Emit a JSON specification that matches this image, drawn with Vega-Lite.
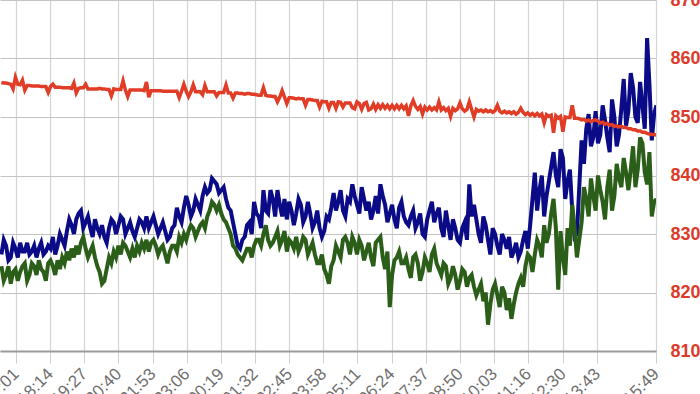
{
  "$schema": "https://vega.github.io/schema/vega-lite/v6.json",
  "width": 656,
  "height": 351,
  "autosize": "none",
  "padding": {"left": 0, "top": 0, "right": 44, "bottom": 43},
  "background": "white",
  "config": {"view": {"stroke": null}, "font": "Liberation Sans"},
  "data": {"values": [
    {"t":"2024-01-01T16:30","b":826.5,"g":824.5,"r":855.9},
    {"t":"2024-01-01T16:35","b":829.0,"g":822.0,"r":855.8},
    {"t":"2024-01-01T16:40","b":828.0,"g":823.0,"r":855.8},
    {"t":"2024-01-01T16:45","b":825.5,"g":824.5,"r":855.7},
    {"t":"2024-01-01T16:50","b":826.0,"g":821.5,"r":855.6},
    {"t":"2024-01-01T16:55","b":828.5,"g":823.5,"r":854.8},
    {"t":"2024-01-01T17:00","b":827.5,"g":824.0,"r":856.8},
    {"t":"2024-01-01T17:05","b":826.0,"g":822.0,"r":855.6},
    {"t":"2024-01-01T17:10","b":828.5,"g":823.5,"r":855.5},
    {"t":"2024-01-01T17:15","b":827.0,"g":824.5,"r":856.3},
    {"t":"2024-01-01T17:20","b":827.0,"g":825.0,"r":854.6},
    {"t":"2024-01-01T17:25","b":828.5,"g":822.0,"r":855.4},
    {"t":"2024-01-01T17:30","b":826.5,"g":823.0,"r":855.4},
    {"t":"2024-01-01T17:35","b":827.0,"g":825.0,"r":855.3},
    {"t":"2024-01-01T17:40","b":828.0,"g":824.5,"r":855.3},
    {"t":"2024-01-01T17:45","b":826.0,"g":823.0,"r":855.3},
    {"t":"2024-01-01T17:50","b":827.5,"g":825.5,"r":855.3},
    {"t":"2024-01-01T17:55","b":828.5,"g":824.0,"r":855.2},
    {"t":"2024-01-01T18:00","b":826.5,"g":823.5,"r":855.2},
    {"t":"2024-01-01T18:05","b":827.0,"g":822.0,"r":855.2},
    {"t":"2024-01-01T18:10","b":828.0,"g":825.0,"r":854.2},
    {"t":"2024-01-01T18:15","b":827.5,"g":825.5,"r":855.2},
    {"t":"2024-01-01T18:20","b":829.5,"g":824.5,"r":855.6},
    {"t":"2024-01-01T18:25","b":826.5,"g":823.0,"r":855.1},
    {"t":"2024-01-01T18:30","b":828.0,"g":825.5,"r":855.1},
    {"t":"2024-01-01T18:35","b":830.0,"g":824.0,"r":855.1},
    {"t":"2024-01-01T18:40","b":829.0,"g":826.0,"r":855.0},
    {"t":"2024-01-01T18:45","b":828.0,"g":825.0,"r":855.0},
    {"t":"2024-01-01T18:50","b":830.5,"g":827.0,"r":855.0},
    {"t":"2024-01-01T18:55","b":832.5,"g":825.5,"r":855.0},
    {"t":"2024-01-01T19:00","b":831.5,"g":827.5,"r":854.9},
    {"t":"2024-01-01T19:05","b":830.0,"g":826.0,"r":855.8},
    {"t":"2024-01-01T19:10","b":832.5,"g":828.0,"r":854.1},
    {"t":"2024-01-01T19:15","b":833.5,"g":826.5,"r":854.9},
    {"t":"2024-01-01T19:20","b":834.0,"g":828.5,"r":855.0},
    {"t":"2024-01-01T19:25","b":831.0,"g":829.5,"r":855.0},
    {"t":"2024-01-01T19:30","b":832.0,"g":827.5,"r":855.6},
    {"t":"2024-01-01T19:35","b":833.0,"g":826.0,"r":854.8},
    {"t":"2024-01-01T19:40","b":831.0,"g":827.0,"r":854.8},
    {"t":"2024-01-01T19:45","b":829.5,"g":828.0,"r":854.8},
    {"t":"2024-01-01T19:50","b":832.5,"g":826.0,"r":854.8},
    {"t":"2024-01-01T19:55","b":831.0,"g":824.5,"r":854.8},
    {"t":"2024-01-01T20:00","b":830.0,"g":823.5,"r":854.9},
    {"t":"2024-01-01T20:05","b":831.5,"g":821.5,"r":854.8},
    {"t":"2024-01-01T20:10","b":829.5,"g":822.0,"r":854.8},
    {"t":"2024-01-01T20:15","b":828.5,"g":824.0,"r":854.7},
    {"t":"2024-01-01T20:20","b":831.0,"g":826.0,"r":854.7},
    {"t":"2024-01-01T20:25","b":832.5,"g":825.0,"r":853.6},
    {"t":"2024-01-01T20:30","b":832.0,"g":827.0,"r":854.8},
    {"t":"2024-01-01T20:35","b":830.0,"g":826.0,"r":854.7},
    {"t":"2024-01-01T20:40","b":831.5,"g":828.0,"r":854.7},
    {"t":"2024-01-01T20:45","b":833.0,"g":826.5,"r":854.7},
    {"t":"2024-01-01T20:50","b":832.5,"g":828.5,"r":856.2},
    {"t":"2024-01-01T20:55","b":830.0,"g":828.0,"r":854.6},
    {"t":"2024-01-01T21:00","b":831.0,"g":827.0,"r":853.5},
    {"t":"2024-01-01T21:05","b":832.0,"g":826.0,"r":854.6},
    {"t":"2024-01-01T21:10","b":830.5,"g":827.5,"r":854.6},
    {"t":"2024-01-01T21:15","b":829.5,"g":826.0,"r":854.6},
    {"t":"2024-01-01T21:20","b":831.0,"g":828.0,"r":854.6},
    {"t":"2024-01-01T21:25","b":832.5,"g":827.0,"r":854.6},
    {"t":"2024-01-01T21:30","b":832.0,"g":828.5,"r":854.6},
    {"t":"2024-01-01T21:35","b":831.0,"g":827.5,"r":854.5},
    {"t":"2024-01-01T21:40","b":833.0,"g":829.0,"r":856.0},
    {"t":"2024-01-01T21:45","b":831.0,"g":827.0,"r":853.4},
    {"t":"2024-01-01T21:50","b":832.0,"g":828.5,"r":854.5},
    {"t":"2024-01-01T21:55","b":833.0,"g":829.0,"r":854.5},
    {"t":"2024-01-01T22:00","b":831.5,"g":828.0,"r":854.5},
    {"t":"2024-01-01T22:05","b":830.0,"g":826.5,"r":854.5},
    {"t":"2024-01-01T22:10","b":831.0,"g":827.5,"r":854.5},
    {"t":"2024-01-01T22:15","b":832.0,"g":828.0,"r":854.4},
    {"t":"2024-01-01T22:20","b":830.5,"g":826.5,"r":854.4},
    {"t":"2024-01-01T22:25","b":829.0,"g":825.0,"r":854.4},
    {"t":"2024-01-01T22:30","b":829.5,"g":827.0,"r":854.4},
    {"t":"2024-01-01T22:35","b":831.0,"g":828.0,"r":854.4},
    {"t":"2024-01-01T22:40","b":831.5,"g":828.0,"r":854.4},
    {"t":"2024-01-01T22:45","b":834.5,"g":827.0,"r":854.4},
    {"t":"2024-01-01T22:50","b":833.0,"g":829.5,"r":853.3},
    {"t":"2024-01-01T22:55","b":832.0,"g":828.5,"r":854.4},
    {"t":"2024-01-01T23:00","b":834.5,"g":830.0,"r":855.6},
    {"t":"2024-01-01T23:05","b":836.5,"g":829.0,"r":854.4},
    {"t":"2024-01-01T23:10","b":835.0,"g":830.5,"r":853.5},
    {"t":"2024-01-01T23:15","b":833.0,"g":831.5,"r":854.3},
    {"t":"2024-01-01T23:20","b":834.0,"g":831.0,"r":855.5},
    {"t":"2024-01-01T23:25","b":836.0,"g":829.5,"r":854.3},
    {"t":"2024-01-01T23:30","b":835.0,"g":830.5,"r":854.3},
    {"t":"2024-01-01T23:35","b":834.0,"g":831.5,"r":854.3},
    {"t":"2024-01-01T23:40","b":836.5,"g":832.0,"r":853.8},
    {"t":"2024-01-01T23:45","b":838.0,"g":831.0,"r":855.4},
    {"t":"2024-01-01T23:50","b":837.0,"g":833.0,"r":854.3},
    {"t":"2024-01-01T23:55","b":837.5,"g":834.0,"r":854.3},
    {"t":"2024-01-02T00:00","b":839.5,"g":835.5,"r":854.3},
    {"t":"2024-01-02T00:05","b":839.0,"g":835.0,"r":854.3},
    {"t":"2024-01-02T00:10","b":838.5,"g":834.0,"r":853.6},
    {"t":"2024-01-02T00:15","b":837.0,"g":835.0,"r":854.2},
    {"t":"2024-01-02T00:20","b":837.5,"g":833.5,"r":854.2},
    {"t":"2024-01-02T00:25","b":838.0,"g":832.5,"r":854.2},
    {"t":"2024-01-02T00:30","b":836.0,"g":832.0,"r":855.5},
    {"t":"2024-01-02T00:35","b":834.5,"g":831.0,"r":854.1},
    {"t":"2024-01-02T00:40","b":834.0,"g":830.0,"r":854.1},
    {"t":"2024-01-02T00:45","b":832.0,"g":828.0,"r":853.2},
    {"t":"2024-01-02T00:50","b":830.0,"g":827.5,"r":854.1},
    {"t":"2024-01-02T00:55","b":828.0,"g":826.5,"r":854.1},
    {"t":"2024-01-02T01:00","b":827.5,"g":826.0,"r":854.0},
    {"t":"2024-01-02T01:05","b":829.0,"g":825.5,"r":854.0},
    {"t":"2024-01-02T01:10","b":829.5,"g":826.5,"r":853.9},
    {"t":"2024-01-02T01:15","b":831.5,"g":827.5,"r":854.0},
    {"t":"2024-01-02T01:20","b":832.0,"g":827.5,"r":854.0},
    {"t":"2024-01-02T01:25","b":830.0,"g":826.0,"r":853.9},
    {"t":"2024-01-02T01:30","b":835.5,"g":828.0,"r":853.9},
    {"t":"2024-01-02T01:35","b":833.5,"g":829.0,"r":853.8},
    {"t":"2024-01-02T01:40","b":833.0,"g":829.0,"r":853.7},
    {"t":"2024-01-02T01:45","b":831.0,"g":828.0,"r":853.7},
    {"t":"2024-01-02T01:50","b":837.5,"g":830.0,"r":855.0},
    {"t":"2024-01-02T01:55","b":834.0,"g":831.5,"r":853.7},
    {"t":"2024-01-02T02:00","b":833.5,"g":829.0,"r":853.6},
    {"t":"2024-01-02T02:05","b":837.5,"g":828.0,"r":853.6},
    {"t":"2024-01-02T02:10","b":836.0,"g":828.5,"r":853.5},
    {"t":"2024-01-02T02:15","b":833.0,"g":829.5,"r":853.5},
    {"t":"2024-01-02T02:20","b":837.5,"g":830.5,"r":852.6},
    {"t":"2024-01-02T02:25","b":835.0,"g":828.0,"r":853.4},
    {"t":"2024-01-02T02:30","b":833.0,"g":829.0,"r":854.5},
    {"t":"2024-01-02T02:35","b":836.0,"g":830.5,"r":853.4},
    {"t":"2024-01-02T02:40","b":832.5,"g":827.0,"r":852.3},
    {"t":"2024-01-02T02:45","b":835.5,"g":829.0,"r":853.3},
    {"t":"2024-01-02T02:50","b":834.0,"g":828.5,"r":853.3},
    {"t":"2024-01-02T02:55","b":831.5,"g":827.5,"r":853.2},
    {"t":"2024-01-02T03:00","b":833.5,"g":829.5,"r":853.1},
    {"t":"2024-01-02T03:05","b":836.0,"g":827.0,"r":853.2},
    {"t":"2024-01-02T03:10","b":835.0,"g":828.0,"r":853.1},
    {"t":"2024-01-02T03:15","b":832.0,"g":829.5,"r":853.1},
    {"t":"2024-01-02T03:20","b":833.0,"g":829.0,"r":852.0},
    {"t":"2024-01-02T03:25","b":835.5,"g":826.5,"r":853.0},
    {"t":"2024-01-02T03:30","b":833.5,"g":827.5,"r":853.0},
    {"t":"2024-01-02T03:35","b":831.0,"g":828.5,"r":852.9},
    {"t":"2024-01-02T03:40","b":832.0,"g":826.5,"r":852.8},
    {"t":"2024-01-02T03:45","b":834.0,"g":825.0,"r":852.8},
    {"t":"2024-01-02T03:50","b":831.0,"g":825.0,"r":851.7},
    {"t":"2024-01-02T03:55","b":829.5,"g":826.5,"r":852.7},
    {"t":"2024-01-02T04:00","b":830.5,"g":824.0,"r":852.6},
    {"t":"2024-01-02T04:05","b":833.0,"g":823.0,"r":852.6},
    {"t":"2024-01-02T04:10","b":832.5,"g":821.5,"r":851.5},
    {"t":"2024-01-02T04:15","b":834.5,"g":824.5,"r":852.5},
    {"t":"2024-01-02T04:20","b":837.0,"g":825.5,"r":852.5},
    {"t":"2024-01-02T04:25","b":834.0,"g":828.0,"r":851.5},
    {"t":"2024-01-02T04:30","b":835.5,"g":827.0,"r":852.6},
    {"t":"2024-01-02T04:35","b":837.5,"g":826.0,"r":852.5},
    {"t":"2024-01-02T04:40","b":834.0,"g":829.0,"r":851.7},
    {"t":"2024-01-02T04:45","b":833.0,"g":829.5,"r":852.4},
    {"t":"2024-01-02T04:50","b":836.0,"g":828.5,"r":852.4},
    {"t":"2024-01-02T04:55","b":835.5,"g":826.5,"r":852.4},
    {"t":"2024-01-02T05:00","b":838.5,"g":829.5,"r":851.6},
    {"t":"2024-01-02T05:05","b":836.5,"g":828.5,"r":851.4},
    {"t":"2024-01-02T05:10","b":835.0,"g":826.5,"r":852.6},
    {"t":"2024-01-02T05:15","b":833.5,"g":829.0,"r":852.3},
    {"t":"2024-01-02T05:20","b":838.0,"g":828.0,"r":851.3},
    {"t":"2024-01-02T05:25","b":836.0,"g":825.5,"r":852.3},
    {"t":"2024-01-02T05:30","b":834.0,"g":827.0,"r":852.5},
    {"t":"2024-01-02T05:35","b":835.5,"g":828.5,"r":851.2},
    {"t":"2024-01-02T05:40","b":832.5,"g":826.0,"r":851.4},
    {"t":"2024-01-02T05:45","b":834.0,"g":824.5,"r":852.2},
    {"t":"2024-01-02T05:50","b":836.5,"g":828.5,"r":851.3},
    {"t":"2024-01-02T05:55","b":833.5,"g":829.0,"r":852.1},
    {"t":"2024-01-02T06:00","b":838.5,"g":829.5,"r":851.5},
    {"t":"2024-01-02T06:05","b":836.5,"g":826.0,"r":852.1},
    {"t":"2024-01-02T06:10","b":835.0,"g":824.0,"r":851.5},
    {"t":"2024-01-02T06:15","b":832.0,"g":827.0,"r":852.0},
    {"t":"2024-01-02T06:20","b":833.5,"g":817.5,"r":851.4},
    {"t":"2024-01-02T06:25","b":835.0,"g":823.0,"r":852.0},
    {"t":"2024-01-02T06:30","b":832.5,"g":825.5,"r":851.4},
    {"t":"2024-01-02T06:35","b":831.0,"g":826.0,"r":852.0},
    {"t":"2024-01-02T06:40","b":834.5,"g":827.0,"r":851.4},
    {"t":"2024-01-02T06:45","b":835.5,"g":825.0,"r":852.0},
    {"t":"2024-01-02T06:50","b":833.0,"g":825.0,"r":851.4},
    {"t":"2024-01-02T06:55","b":832.0,"g":826.0,"r":851.9},
    {"t":"2024-01-02T07:00","b":831.5,"g":824.0,"r":850.2},
    {"t":"2024-01-02T07:05","b":833.0,"g":822.5,"r":851.9},
    {"t":"2024-01-02T07:10","b":834.0,"g":826.0,"r":852.8},
    {"t":"2024-01-02T07:15","b":831.0,"g":826.5,"r":851.8},
    {"t":"2024-01-02T07:20","b":832.0,"g":825.0,"r":851.3},
    {"t":"2024-01-02T07:25","b":833.5,"g":822.0,"r":851.8},
    {"t":"2024-01-02T07:30","b":830.0,"g":823.5,"r":850.5},
    {"t":"2024-01-02T07:35","b":829.5,"g":826.0,"r":851.7},
    {"t":"2024-01-02T07:40","b":832.5,"g":825.0,"r":851.2},
    {"t":"2024-01-02T07:45","b":834.0,"g":823.5,"r":851.7},
    {"t":"2024-01-02T07:50","b":835.5,"g":826.5,"r":851.2},
    {"t":"2024-01-02T07:55","b":832.0,"g":827.5,"r":851.6},
    {"t":"2024-01-02T08:00","b":833.5,"g":825.0,"r":851.2},
    {"t":"2024-01-02T08:05","b":834.5,"g":824.0,"r":852.6},
    {"t":"2024-01-02T08:10","b":831.0,"g":823.0,"r":851.2},
    {"t":"2024-01-02T08:15","b":829.5,"g":825.0,"r":851.6},
    {"t":"2024-01-02T08:20","b":834.0,"g":824.5,"r":851.1},
    {"t":"2024-01-02T08:25","b":831.5,"g":821.5,"r":851.5},
    {"t":"2024-01-02T08:30","b":829.0,"g":822.5,"r":850.1},
    {"t":"2024-01-02T08:35","b":832.5,"g":824.5,"r":851.5},
    {"t":"2024-01-02T08:40","b":831.0,"g":823.0,"r":851.1},
    {"t":"2024-01-02T08:45","b":829.0,"g":820.5,"r":851.4},
    {"t":"2024-01-02T08:50","b":828.5,"g":822.0,"r":852.4},
    {"t":"2024-01-02T08:55","b":831.0,"g":824.0,"r":851.4},
    {"t":"2024-01-02T09:00","b":832.0,"g":823.5,"r":851.0},
    {"t":"2024-01-02T09:05","b":829.0,"g":821.0,"r":851.3},
    {"t":"2024-01-02T09:10","b":838.5,"g":822.5,"r":852.6},
    {"t":"2024-01-02T09:15","b":833.0,"g":823.0,"r":851.3},
    {"t":"2024-01-02T09:20","b":835.0,"g":821.0,"r":850.0},
    {"t":"2024-01-02T09:25","b":832.5,"g":819.5,"r":851.3},
    {"t":"2024-01-02T09:30","b":830.0,"g":820.5,"r":851.0},
    {"t":"2024-01-02T09:35","b":828.5,"g":821.5,"r":851.2},
    {"t":"2024-01-02T09:40","b":833.0,"g":818.5,"r":850.9},
    {"t":"2024-01-02T09:45","b":831.5,"g":820.0,"r":851.2},
    {"t":"2024-01-02T09:50","b":829.0,"g":814.5,"r":850.9},
    {"t":"2024-01-02T09:55","b":826.5,"g":818.0,"r":851.1},
    {"t":"2024-01-02T10:00","b":831.0,"g":820.5,"r":850.8},
    {"t":"2024-01-02T10:05","b":830.0,"g":821.5,"r":851.1},
    {"t":"2024-01-02T10:10","b":828.0,"g":819.5,"r":852.0},
    {"t":"2024-01-02T10:15","b":826.5,"g":817.5,"r":851.0},
    {"t":"2024-01-02T10:20","b":830.0,"g":821.0,"r":850.7},
    {"t":"2024-01-02T10:25","b":829.0,"g":820.0,"r":851.0},
    {"t":"2024-01-02T10:30","b":827.5,"g":817.0,"r":850.7},
    {"t":"2024-01-02T10:35","b":829.5,"g":819.0,"r":850.9},
    {"t":"2024-01-02T10:40","b":826.0,"g":815.5,"r":850.6},
    {"t":"2024-01-02T10:45","b":827.0,"g":818.0,"r":850.9},
    {"t":"2024-01-02T10:50","b":828.5,"g":820.0,"r":850.5},
    {"t":"2024-01-02T10:55","b":826.0,"g":821.5,"r":850.8},
    {"t":"2024-01-02T11:00","b":827.0,"g":822.5,"r":851.5},
    {"t":"2024-01-02T11:05","b":829.0,"g":821.0,"r":850.8},
    {"t":"2024-01-02T11:10","b":830.5,"g":824.5,"r":850.4},
    {"t":"2024-01-02T11:15","b":827.5,"g":826.5,"r":850.7},
    {"t":"2024-01-02T11:20","b":831.5,"g":826.0,"r":850.3},
    {"t":"2024-01-02T11:25","b":836.0,"g":823.5,"r":850.6},
    {"t":"2024-01-02T11:30","b":840.5,"g":826.5,"r":850.2},
    {"t":"2024-01-02T11:35","b":834.0,"g":829.0,"r":850.6},
    {"t":"2024-01-02T11:40","b":837.5,"g":828.0,"r":850.2},
    {"t":"2024-01-02T11:45","b":840.0,"g":826.0,"r":850.5},
    {"t":"2024-01-02T11:50","b":833.0,"g":831.5,"r":849.0},
    {"t":"2024-01-02T11:55","b":836.5,"g":828.5,"r":850.4},
    {"t":"2024-01-02T12:00","b":839.0,"g":830.0,"r":850.1},
    {"t":"2024-01-02T12:05","b":841.5,"g":833.5,"r":850.3},
    {"t":"2024-01-02T12:10","b":844.0,"g":836.0,"r":847.3},
    {"t":"2024-01-02T12:15","b":840.0,"g":831.0,"r":850.2},
    {"t":"2024-01-02T12:20","b":838.0,"g":820.5,"r":849.8},
    {"t":"2024-01-02T12:25","b":844.5,"g":830.5,"r":850.1},
    {"t":"2024-01-02T12:30","b":843.0,"g":826.0,"r":847.5},
    {"t":"2024-01-02T12:35","b":836.0,"g":823.0,"r":850.0},
    {"t":"2024-01-02T12:40","b":839.0,"g":831.0,"r":849.9},
    {"t":"2024-01-02T12:45","b":841.0,"g":828.0,"r":849.9},
    {"t":"2024-01-02T12:50","b":834.0,"g":835.0,"r":852.0},
    {"t":"2024-01-02T12:55","b":829.5,"g":831.0,"r":849.8},
    {"t":"2024-01-02T13:00","b":830.0,"g":826.0,"r":849.8},
    {"t":"2024-01-02T13:05","b":838.0,"g":829.0,"r":849.7},
    {"t":"2024-01-02T13:10","b":846.0,"g":832.0,"r":849.5},
    {"t":"2024-01-02T13:15","b":842.0,"g":838.0,"r":849.6},
    {"t":"2024-01-02T13:20","b":848.0,"g":836.0,"r":849.3},
    {"t":"2024-01-02T13:25","b":850.5,"g":833.0,"r":849.5},
    {"t":"2024-01-02T13:30","b":845.0,"g":839.5,"r":849.2},
    {"t":"2024-01-02T13:35","b":846.5,"g":836.5,"r":849.4},
    {"t":"2024-01-02T13:40","b":851.0,"g":834.0,"r":849.5},
    {"t":"2024-01-02T13:45","b":845.5,"g":840.0,"r":849.3},
    {"t":"2024-01-02T13:50","b":847.0,"g":837.5,"r":849.0},
    {"t":"2024-01-02T13:55","b":852.0,"g":835.5,"r":849.1},
    {"t":"2024-01-02T14:00","b":849.5,"g":832.5,"r":848.8},
    {"t":"2024-01-02T14:05","b":846.5,"g":838.0,"r":848.9},
    {"t":"2024-01-02T14:10","b":844.0,"g":841.0,"r":848.6},
    {"t":"2024-01-02T14:15","b":853.0,"g":834.0,"r":848.7},
    {"t":"2024-01-02T14:20","b":850.0,"g":836.5,"r":848.4},
    {"t":"2024-01-02T14:25","b":845.0,"g":842.0,"r":848.5},
    {"t":"2024-01-02T14:30","b":847.0,"g":839.5,"r":848.3},
    {"t":"2024-01-02T14:35","b":851.5,"g":838.0,"r":848.4},
    {"t":"2024-01-02T14:40","b":856.5,"g":843.0,"r":848.2},
    {"t":"2024-01-02T14:45","b":848.5,"g":840.5,"r":848.2},
    {"t":"2024-01-02T14:50","b":851.0,"g":837.5,"r":848.0},
    {"t":"2024-01-02T14:55","b":857.5,"g":841.0,"r":848.0},
    {"t":"2024-01-02T15:00","b":855.0,"g":845.0,"r":847.8},
    {"t":"2024-01-02T15:05","b":850.0,"g":838.0,"r":847.8},
    {"t":"2024-01-02T15:10","b":849.0,"g":841.0,"r":847.6},
    {"t":"2024-01-02T15:15","b":856.0,"g":846.5,"r":847.6},
    {"t":"2024-01-02T15:20","b":852.0,"g":845.5,"r":847.4},
    {"t":"2024-01-02T15:25","b":848.0,"g":840.5,"r":847.4},
    {"t":"2024-01-02T15:30","b":863.5,"g":838.5,"r":847.2},
    {"t":"2024-01-02T15:35","b":855.5,"g":844.0,"r":847.1},
    {"t":"2024-01-02T15:40","b":846.0,"g":833.0,"r":847.0},
    {"t":"2024-01-02T15:45","b":850.5,"g":835.5,"r":847.0},
    {"t":"2024-01-02T15:50","b":852.0,"g":836.0,"r":846.9}
  ]},
  "encoding": {
    "x": {
      "field": "t", "type": "temporal",
      "scale": {"domain": [
        {"year": 2024, "month": 1, "date": 1, "hours": 16, "minutes": 27},
        {"year": 2024, "month": 1, "date": 2, "hours": 15, "minutes": 49}
      ]},
      "axis": {
        "title": null,
        "format": "%H:%M",
        "values": [
          {"year": 2024, "month": 1, "date": 1, "hours": 17, "minutes": 1},
          {"year": 2024, "month": 1, "date": 1, "hours": 18, "minutes": 14},
          {"year": 2024, "month": 1, "date": 1, "hours": 19, "minutes": 27},
          {"year": 2024, "month": 1, "date": 1, "hours": 20, "minutes": 40},
          {"year": 2024, "month": 1, "date": 1, "hours": 21, "minutes": 53},
          {"year": 2024, "month": 1, "date": 1, "hours": 23, "minutes": 6},
          {"year": 2024, "month": 1, "date": 2, "hours": 0, "minutes": 19},
          {"year": 2024, "month": 1, "date": 2, "hours": 1, "minutes": 32},
          {"year": 2024, "month": 1, "date": 2, "hours": 2, "minutes": 45},
          {"year": 2024, "month": 1, "date": 2, "hours": 3, "minutes": 58},
          {"year": 2024, "month": 1, "date": 2, "hours": 5, "minutes": 11},
          {"year": 2024, "month": 1, "date": 2, "hours": 6, "minutes": 24},
          {"year": 2024, "month": 1, "date": 2, "hours": 7, "minutes": 37},
          {"year": 2024, "month": 1, "date": 2, "hours": 8, "minutes": 50},
          {"year": 2024, "month": 1, "date": 2, "hours": 10, "minutes": 3},
          {"year": 2024, "month": 1, "date": 2, "hours": 11, "minutes": 16},
          {"year": 2024, "month": 1, "date": 2, "hours": 12, "minutes": 30},
          {"year": 2024, "month": 1, "date": 2, "hours": 13, "minutes": 43},
          {"year": 2024, "month": 1, "date": 2, "hours": 15, "minutes": 49}
        ],
        "labelAngle": -45,
        "labelAlign": "right",
        "labelBaseline": "middle",
        "labelFontSize": 17,
        "labelColor": "#707070",
        "labelPadding": 8,
        "labelFlush": false,
        "labelOverlap": false,
        "tickSize": 12,
        "tickColor": "#d0d0d0",
        "tickWidth": 1,
        "domainColor": "#9a9a9a",
        "domainWidth": 2,
        "grid": true,
        "gridColor": "#d4d4d4",
        "gridWidth": 1.2
      }
    }
  },
  "layer": [
    {
      "mark": {"type": "line", "color": "#0b0b88", "strokeWidth": 4, "clip": true},
      "encoding": {
        "y": {
          "field": "b", "type": "quantitative",
          "scale": {"domain": [810, 870], "zero": false},
          "axis": {
            "orient": "right", "title": null,
            "values": [810, 820, 830, 840, 850, 860, 870],
            "labelColor": "#dd3b2a", "labelFontSize": 18, "labelFontWeight": "bold",
            "labelPadding": 14, "ticks": false, "domain": false,
            "grid": true, "gridColor": "#c4c4c4", "gridWidth": 1.2
          }
        }
      }
    },
    {
      "mark": {"type": "line", "color": "#2b5e18", "strokeWidth": 4, "clip": true},
      "encoding": {
        "y": {
          "field": "g", "type": "quantitative",
          "axis": {
            "orient": "right", "title": null,
            "values": [810, 820, 830, 840, 850, 860, 870],
            "labelColor": "#dd3b2a", "labelFontSize": 18, "labelFontWeight": "bold",
            "labelPadding": 14, "ticks": false, "domain": false,
            "grid": true, "gridColor": "#c4c4c4", "gridWidth": 1.2
          }
        }
      }
    },
    {
      "mark": {"type": "line", "color": "#e03c26", "strokeWidth": 3.5, "clip": true},
      "encoding": {
        "y": {
          "field": "r", "type": "quantitative",
          "axis": {
            "orient": "right", "title": null,
            "values": [810, 820, 830, 840, 850, 860, 870],
            "labelColor": "#dd3b2a", "labelFontSize": 18, "labelFontWeight": "bold",
            "labelPadding": 14, "ticks": false, "domain": false,
            "grid": true, "gridColor": "#c4c4c4", "gridWidth": 1.2
          }
        }
      }
    }
  ]
}
